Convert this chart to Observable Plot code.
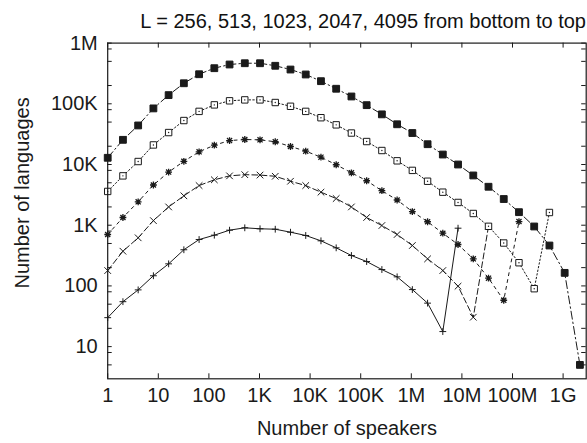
<!DOCTYPE html>
<html>
<head>
<meta charset="utf-8">
<script src="https://cdn.jsdelivr.net/npm/d3@7"></script>
<script src="https://cdn.jsdelivr.net/npm/@observablehq/plot@0.6"></script>
<style>
  html, body { margin: 0; padding: 0; background: #fff; }
  #chart { width: 587px; font-family: "Liberation Sans", Arial, Helvetica, sans-serif; color: #111; }
  #chart .title { height: 30px; line-height: 30px; font-size: 20px; text-align: right; padding-right: 1px; position: relative; top: 6px; white-space: nowrap; }
  #chart svg { display: block; }
</style>
</head>
<body>
<div id="chart"><div class="title">L = 256, 513, 1023, 2047, 4095 from bottom to top</div></div>
<script>
// Bin centres: number of speakers (powers of two)
const speakers = [1, 2, 4, 8, 16, 32, 64, 128, 256, 512, 1024, 2048, 4096, 8192, 16384,
  32768, 65536, 131072, 262144, 524288, 1048576, 2097152, 4194304, 8388608, 16777216,
  33554432, 67108864, 134217728, 268435456, 536870912, 1073741824, 2147483648];

// Number of languages per bin, one list per L
const langsL256 = [30, 55, 86, 147, 231, 394, 581, 685, 828, 906, 873, 859, 767, 677, 553,
  424, 317, 252, 186, 141, 87, 52, 17.7, 893];
const langsL513 = [179, 373, 620, 1190, 2000, 3050, 4500, 5600, 6500, 6800, 6700, 6400, 5300,
  4500, 3500, 2750, 2000, 1340, 988, 703, 463, 279, 179, 99, 30.5, 960];
const langsL1023 = [703, 1340, 2430, 4600, 7500, 11300, 16200, 20800, 24800, 25800, 25500,
  23700, 19800, 16600, 13200, 9900, 7300, 5400, 3700, 2600, 1680, 1140, 738, 481, 279, 134,
  58, 1150];
const langsL2047 = [3600, 6500, 11200, 21000, 33600, 53000, 75000, 96000, 112000, 116000,
  116000, 105000, 91000, 75000, 59000, 45000, 33000, 23900, 17000, 11500, 8000, 5300, 3500,
  2370, 1560, 959, 509, 241, 90, 1620];
const langsL4095 = [12900, 25500, 44000, 84000, 139000, 218000, 307000, 386000, 444000, 466000,
  466000, 423000, 367000, 304000, 236000, 177000, 132000, 95000, 67000, 46000, 33000, 21600,
  14600, 10000, 6600, 4300, 2700, 1640, 953, 463, 164, 5];

// Axis ticks
const xTicks = [1, 10, 100, 1e3, 1e4, 1e5, 1e6, 1e7, 1e8, 1e9];
const xTickLabels = ["1", "10", "100", "1K", "10K", "100K", "1M", "10M", "100M", "1G"];
const yTicks = [10, 100, 1e3, 1e4, 1e5, 1e6];
const yTickLabels = ["10", "100", "1K", "10K", "100K", "1M"];
const yMinorTicks = [5, 8, 20, 50, 80, 200, 500, 800, 2e3, 5e3, 8e3, 2e4, 5e4, 8e4,
  2e5, 5e5, 8e5];

const toRows = (vals) => vals.map((v, i) => ({speakers: speakers[i], languages: v}));

// Point symbols in the gnuplot style
const sym = {
  plus: {draw(c, s) { const r = Math.sqrt(s / Math.PI);
    c.moveTo(-r, 0); c.lineTo(r, 0); c.moveTo(0, -r); c.lineTo(0, r); }},
  times: {draw(c, s) { const r = Math.sqrt(s / Math.PI);
    c.moveTo(-r, -r); c.lineTo(r, r); c.moveTo(-r, r); c.lineTo(r, -r); }},
  star: {draw(c, s) { const r = Math.sqrt(s / Math.PI), d = r * 0.75;
    c.moveTo(-r, 0); c.lineTo(r, 0); c.moveTo(0, -r); c.lineTo(0, r);
    c.moveTo(-d, -d); c.lineTo(d, d); c.moveTo(-d, d); c.lineTo(d, -d); }},
  box: {draw(c, s) { const r = Math.sqrt(s / Math.PI);
    c.moveTo(-r, -r); c.lineTo(r, -r); c.lineTo(r, r); c.lineTo(-r, r); c.closePath(); }}
};

const ink = "#1a1a1a";
const series = [
  {data: toRows(langsL256), dash: null, marks: [{symbol: sym.plus, r: 3.4, fill: "none"}]},
  {data: toRows(langsL513), dash: "6,3", marks: [{symbol: sym.times, r: 3.3, fill: "none"}]},
  {data: toRows(langsL1023), dash: "3,4", marks: [{symbol: sym.star, r: 3.4, fill: "none", width: 1.3}]},
  {data: toRows(langsL2047), dash: "1.5,2.2", marks: [{symbol: sym.box, r: 3.2, fill: "white"},
    {symbol: "circle", r: 0.7, fill: ink, stroke: "none"}]},
  {data: toRows(langsL4095), dash: "8,3,1.5,3", marks: [{symbol: sym.box, r: 3.4, fill: ink}]}
];

const W = 587, H = 413;
const mL = 107.2, mR = 1.3, mT = 12.6, mB = 64.7;
const fw = W - mL - mR, fh = H - mT - mB;
const tickX = 5, tickY = 4.5;

const marks = [];
for (const s of series) {
  marks.push(Plot.line(s.data, {x: "speakers", y: "languages", stroke: ink, strokeWidth: 1,
    strokeDasharray: s.dash}));
}
for (const s of series) {
  for (const m of s.marks) {
    marks.push(Plot.dot(s.data, {x: "speakers", y: "languages", symbol: m.symbol, r: m.r,
      fill: m.fill, stroke: m.stroke === undefined ? ink : m.stroke, strokeWidth: m.width || 1}));
  }
}

// Inward ticks on all four sides, labels and axis titles
marks.push(
  Plot.tickX(xTicks, {x: d => d, insetTop: fh - tickX, stroke: ink}),
  Plot.tickX(xTicks, {x: d => d, insetBottom: fh - tickX, stroke: ink}),
  Plot.tickY(yTicks.concat(yMinorTicks), {y: d => d, insetRight: fw - tickY, stroke: ink}),
  Plot.tickY(yTicks.concat(yMinorTicks), {y: d => d, insetLeft: fw - tickY, stroke: ink}),
  Plot.frame({stroke: ink, strokeWidth: 1.2}),
  Plot.text(xTicks, {x: d => d, text: (d, i) => xTickLabels[i], frameAnchor: "bottom",
    dy: 23, fontSize: 20, fill: ink}),
  Plot.text(yTicks, {y: d => d, text: (d, i) => yTickLabels[i], frameAnchor: "left",
    dx: -10, textAnchor: "end", fontSize: 20, fill: ink}),
  Plot.text(["Number of speakers"], {frameAnchor: "bottom", dy: 56, fontSize: 20, fill: ink}),
  Plot.text(["Number of languages"], {frameAnchor: "left", textAnchor: "middle", dx: -85, dy: -18,
    rotate: -90, fontSize: 20, fill: ink})
);

const chart = Plot.plot({
  width: W, height: H,
  marginLeft: mL, marginRight: mR, marginTop: mT, marginBottom: mB,
  style: {fontFamily: "'Liberation Sans', Arial, Helvetica, sans-serif", background: "white", overflow: "visible"},
  x: {type: "log", domain: [1, 2.86e9], axis: null},
  y: {type: "log", domain: [2.95, 1e6], axis: null},
  marks
});
document.getElementById("chart").appendChild(chart);
</script>
</body>
</html>
